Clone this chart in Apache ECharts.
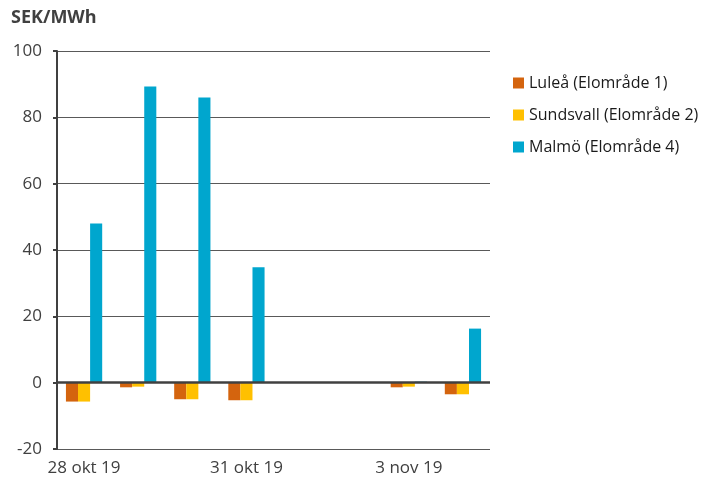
<!DOCTYPE html>
<html>
<head>
<meta charset="utf-8">
<script src="https://cdn.jsdelivr.net/npm/echarts@6/dist/echarts.min.js"></script>
<style>
  html, body { margin: 0; padding: 0; background: #fff; }
  #chart { width: 711px; height: 484px; }
</style>
</head>
<body>
<div id="chart"></div>
<script>
  // dagar (kategorier)
  const days = ['28 okt 19', '29 okt 19', '30 okt 19', '31 okt 19', '1 nov 19', '2 nov 19', '3 nov 19', '4 nov 19'];
  // SEK/MWh per elområde
  const lulea = [-5.7, -1.4, -5.0, -5.3, 0, 0, -1.4, -3.5];
  const sundsvall = [-5.7, -1.2, -5.0, -5.3, 0, 0, -1.2, -3.5];
  const malmo = [48, 89.3, 86, 34.8, 0, 0, 0.3, 16.3];
  const yTicks = { min: -20, max: 100, step: 20 };

  const chart = echarts.init(document.getElementById('chart'));
  const textColor = '#404040';
  const option = {
    animation: false,
    textStyle: { fontFamily: 'Open Sans' },
    title: {
      text: 'SEK/MWh',
      left: 6,
      top: 4,
      textStyle: { fontSize: 18, fontWeight: 'bold', color: textColor, fontFamily: 'Open Sans' }
    },
    legend: {
      orient: 'vertical',
      left: 508,
      top: 70,
      itemGap: 16,
      itemWidth: 11,
      itemHeight: 11,
      icon: 'rect',
      textStyle: { fontSize: 16, color: '#1a1a1a' },
      data: ['Luleå (Elområde 1)', 'Sundsvall (Elområde 2)', 'Malmö (Elområde 4)']
    },
    grid: { left: 57, right: 221, top: 51, bottom: 35 },
    xAxis: {
      type: 'category',
      data: days,
      axisLine: { onZero: false, show: false },
      axisTick: { show: false },
      axisLabel: { interval: 2, fontSize: 17, color: textColor, margin: 11 }
    },
    yAxis: {
      type: 'value',
      min: yTicks.min,
      max: yTicks.max,
      interval: yTicks.step,
      axisLine: { show: true, lineStyle: { color: textColor, width: 2 } },
      axisTick: { show: true, length: 4, lineStyle: { color: textColor, width: 2 } },
      axisLabel: { fontSize: 17, color: textColor, margin: 15 },
      splitLine: { lineStyle: { color: '#595959', width: 1 } }
    },
    series: [
      {
        name: 'Luleå (Elområde 1)',
        type: 'bar',
        data: lulea,
        barGap: '0%',
        barCategoryGap: '33%',
        itemStyle: { color: '#D4640E' },
        markLine: {
          silent: true,
          symbol: 'none',
          label: { show: false },
          lineStyle: { color: textColor, width: 2.5, type: 'solid' },
          data: [{ yAxis: 0 }]
        }
      },
      {
        name: 'Sundsvall (Elområde 2)',
        type: 'bar',
        data: sundsvall,
        itemStyle: { color: '#FFC000' }
      },
      {
        name: 'Malmö (Elområde 4)',
        type: 'bar',
        data: malmo,
        itemStyle: { color: '#00A6CE' }
      }
    ]
  };
  chart.setOption(option);
</script>
</body>
</html>
